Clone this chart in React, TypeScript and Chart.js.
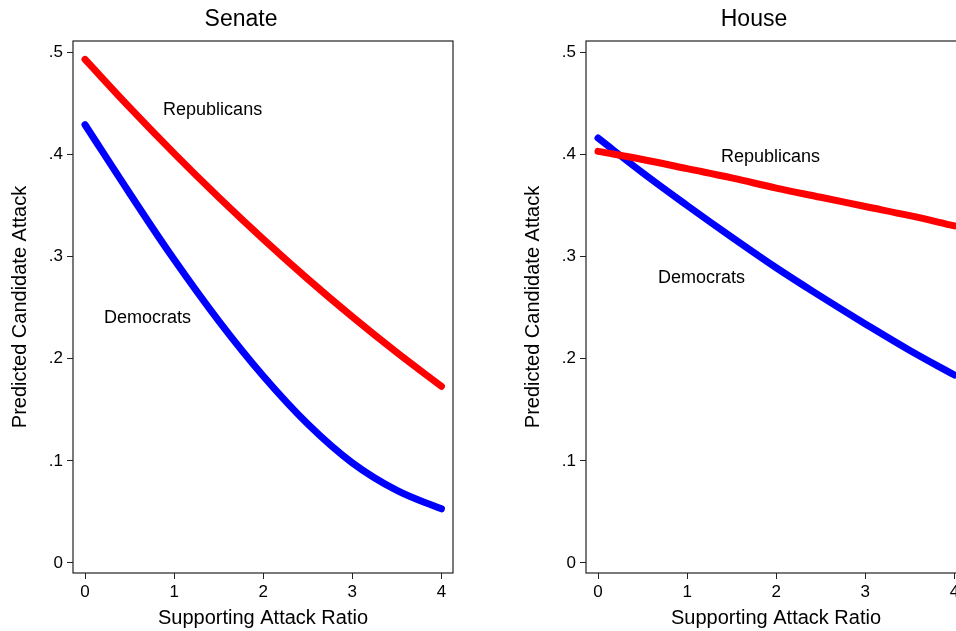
import React, { useEffect, useRef } from "react";
import { Chart, registerables } from "chart.js";

Chart.register(...registerables);

const xValues = [0, 0.5, 1, 1.5, 2, 2.5, 3, 3.5, 4];
const senateRepublicans = [0.493, 0.446, 0.401, 0.358, 0.317, 0.278, 0.241, 0.206, 0.173];
const senateDemocrats = [0.429, 0.362, 0.297, 0.237, 0.183, 0.136, 0.098, 0.071, 0.053];
const houseRepublicans = [0.403, 0.395, 0.386, 0.377, 0.367, 0.358, 0.349, 0.34, 0.33];
const houseDemocrats = [0.416, 0.382, 0.35, 0.319, 0.289, 0.261, 0.234, 0.208, 0.184];
const xTicks = [0, 1, 2, 3, 4];
const yTicks = [0, 0.1, 0.2, 0.3, 0.4, 0.5];

type Label = { text: string; x: number; y: number };

const senateLabels: Label[] = [
  { text: "Republicans", x: 0.876, y: 0.443 },
  { text: "Democrats", x: 0.213, y: 0.240 },
];
const houseLabels: Label[] = [
  { text: "Republicans", x: 1.38, y: 0.397 },
  { text: "Democrats", x: 0.674, y: 0.279 },
];

const FONT = "'Liberation Sans', Arial, Helvetica, sans-serif";

function fmtY(v: number): string {
  if (Math.abs(v) < 1e-9) return "0";
  return v.toFixed(1).replace(/^0/, "");
}

function Panel({ title, rep, dem, labels, left }: { title: string; rep: number[]; dem: number[]; labels: Label[]; left: number }) {
  const ref = useRef<HTMLCanvasElement | null>(null);
  useEffect(() => {
    if (!ref.current) return;
    const framePlugin = {
      id: "frame",
      afterDatasetsDraw(chart: any) {
        const { ctx, chartArea, scales } = chart;
        ctx.save();
        ctx.font = `18px ${FONT}`;
        ctx.fillStyle = "#000";
        ctx.textAlign = "left";
        ctx.textBaseline = "middle";
        labels.forEach((l) => {
          ctx.fillText(l.text, scales.x.getPixelForValue(l.x), scales.y.getPixelForValue(l.y));
        });
        ctx.font = `23px ${FONT}`;
        ctx.textAlign = "center";
        ctx.fillText(title, chart.width / 2 + 1, 20);
        ctx.strokeStyle = "#222";
        ctx.lineWidth = 1.2;
        ctx.strokeRect(chartArea.left, chartArea.top, chartArea.right - chartArea.left, chartArea.bottom - chartArea.top);
        ctx.restore();
      },
    };
    const chart = new Chart(ref.current, {
      type: "line",
      data: {
        datasets: [
          {
            label: "Republicans",
            data: xValues.map((x, i) => ({ x, y: rep[i] })),
            borderColor: "#ff0000",
            borderWidth: 7,
            borderCapStyle: "round",
            borderJoinStyle: "round",
            pointRadius: 0,
            tension: 0.4,
            fill: false,
          },
          {
            label: "Democrats",
            data: xValues.map((x, i) => ({ x, y: dem[i] })),
            borderColor: "#0000ff",
            borderWidth: 7,
            borderCapStyle: "round",
            borderJoinStyle: "round",
            pointRadius: 0,
            tension: 0.4,
            fill: false,
          },
        ],
      },
      options: {
        responsive: false,
        animation: false,
        devicePixelRatio: 1,
        layout: { padding: { left: 0, right: 27, top: 41, bottom: 0 } },
        plugins: {
          legend: { display: false },
          tooltip: { enabled: false },
          title: { display: false },
        },
        scales: {
          x: {
            type: "linear",
            min: -0.135,
            max: 4.13,
            afterBuildTicks: (s: any) => {
              s.ticks = xTicks.map((v) => ({ value: v }));
            },
            afterFit: (s: any) => {
              s.height = 58;
            },
            grid: { display: true, drawOnChartArea: false, drawTicks: true, tickLength: 6, color: "#222" },
            border: { display: false },
            ticks: { color: "#000", font: { family: FONT, size: 17 }, padding: 3, maxRotation: 0, autoSkip: false, callback: (v: any) => String(v) },
            title: { display: true, text: "Supporting Attack Ratio", color: "#000", font: { family: FONT, size: 20 }, padding: { top: 0, bottom: 1 } },
          },
          y: {
            type: "linear",
            min: -0.0098,
            max: 0.511,
            afterBuildTicks: (s: any) => {
              s.ticks = yTicks.map((v) => ({ value: v }));
            },
            afterFit: (s: any) => {
              s.width = 73;
            },
            grid: { display: true, drawOnChartArea: false, drawTicks: true, tickLength: 6, color: "#222" },
            border: { display: false },
            ticks: { color: "#000", font: { family: FONT, size: 17 }, padding: 4, autoSkip: false, callback: (v: any) => fmtY(Number(v)) },
            title: { display: true, text: "Predicted Candidate Attack", color: "#000", font: { family: FONT, size: 20 }, padding: { top: 8, bottom: 0 } },
          },
        },
      },
      plugins: [framePlugin],
    } as any);
    return () => chart.destroy();
  }, []);
  return (
    <canvas
      ref={ref}
      width={480}
      height={631}
      style={{ position: "absolute", left, top: 0, width: 480, height: 631 }}
    />
  );
}

export default function App() {
  return (
    <div style={{ position: "fixed", left: 0, top: 0, width: 956, height: 631, overflow: "hidden", background: "#fff" }}>
      <Panel title="Senate" rep={senateRepublicans} dem={senateDemocrats} labels={senateLabels} left={0} />
      <Panel title="House" rep={houseRepublicans} dem={houseDemocrats} labels={houseLabels} left={513} />
    </div>
  );
}
